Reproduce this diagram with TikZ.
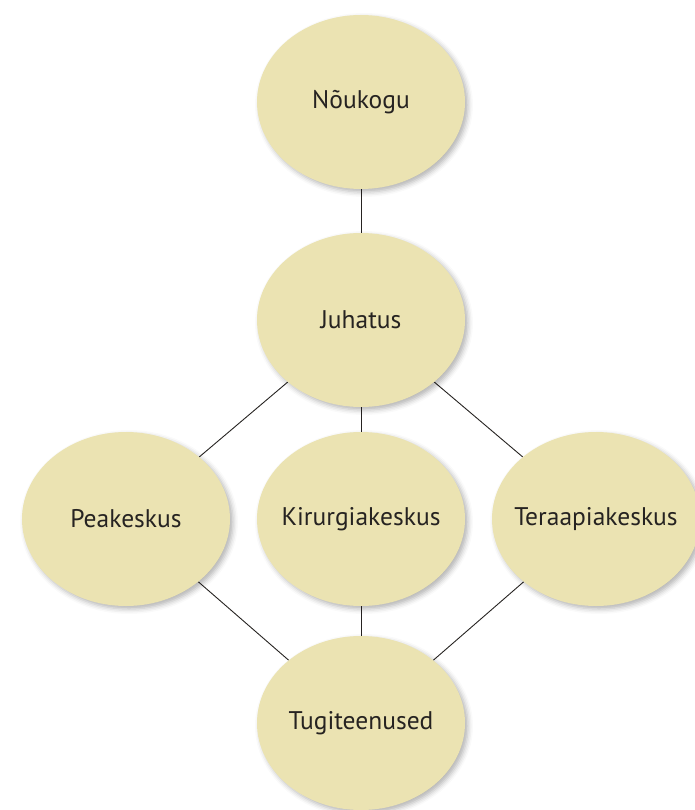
\documentclass[tikz,border=0pt]{standalone}
\usepackage{fontspec}
\setmainfont{PT Sans}
\usepackage{xcolor}
\usetikzlibrary{shapes.geometric,positioning,shadows.blur,backgrounds}
\definecolor{unitfill}{RGB}{235,227,178}
\definecolor{unittext}{RGB}{38,35,33}

\begin{document}
\begin{tikzpicture}[
    unit/.style={ellipse, fill=unitfill, minimum width=208pt, minimum height=174pt,
        inner xsep=-12pt, inner ysep=0pt,
        text=unittext, font=\fontsize{25.5}{30}\selectfont,
        blur shadow={shadow xshift=3pt, shadow yshift=-3pt, shadow opacity=30, shadow blur radius=5pt}},
    link/.style={draw=unittext, line width=0.9pt},
    on grid
]
    % page frame, Nõukogu sits at the origin
    \useasboundingbox (-361pt,102pt) rectangle (333pt,-708pt);

    \node[unit] (noukogu) at (0,0) {Nõukogu};
    \node[unit, below=218pt of noukogu] (juhatus) {Juhatus};
    \node[unit, below=199pt of juhatus] (kirurgia) {Kirurgiakeskus};
    \node[unit, left=235pt of kirurgia] (peakeskus) {Peakeskus};
    \node[unit, right=235pt of kirurgia] (teraapia) {Teraapiakeskus};
    \node[unit, below=204pt of kirurgia] (tugi) {Tugiteenused};

    \begin{scope}[on background layer]
        \draw[link] (noukogu) -- (juhatus);
        \draw[link] (juhatus) -- (peakeskus);
        \draw[link] (juhatus) -- (kirurgia);
        \draw[link] (juhatus) -- (teraapia);
        \draw[link] (peakeskus) -- (tugi);
        \draw[link] (kirurgia) -- (tugi);
        \draw[link] (teraapia) -- (tugi);
    \end{scope}
\end{tikzpicture}
\end{document}
